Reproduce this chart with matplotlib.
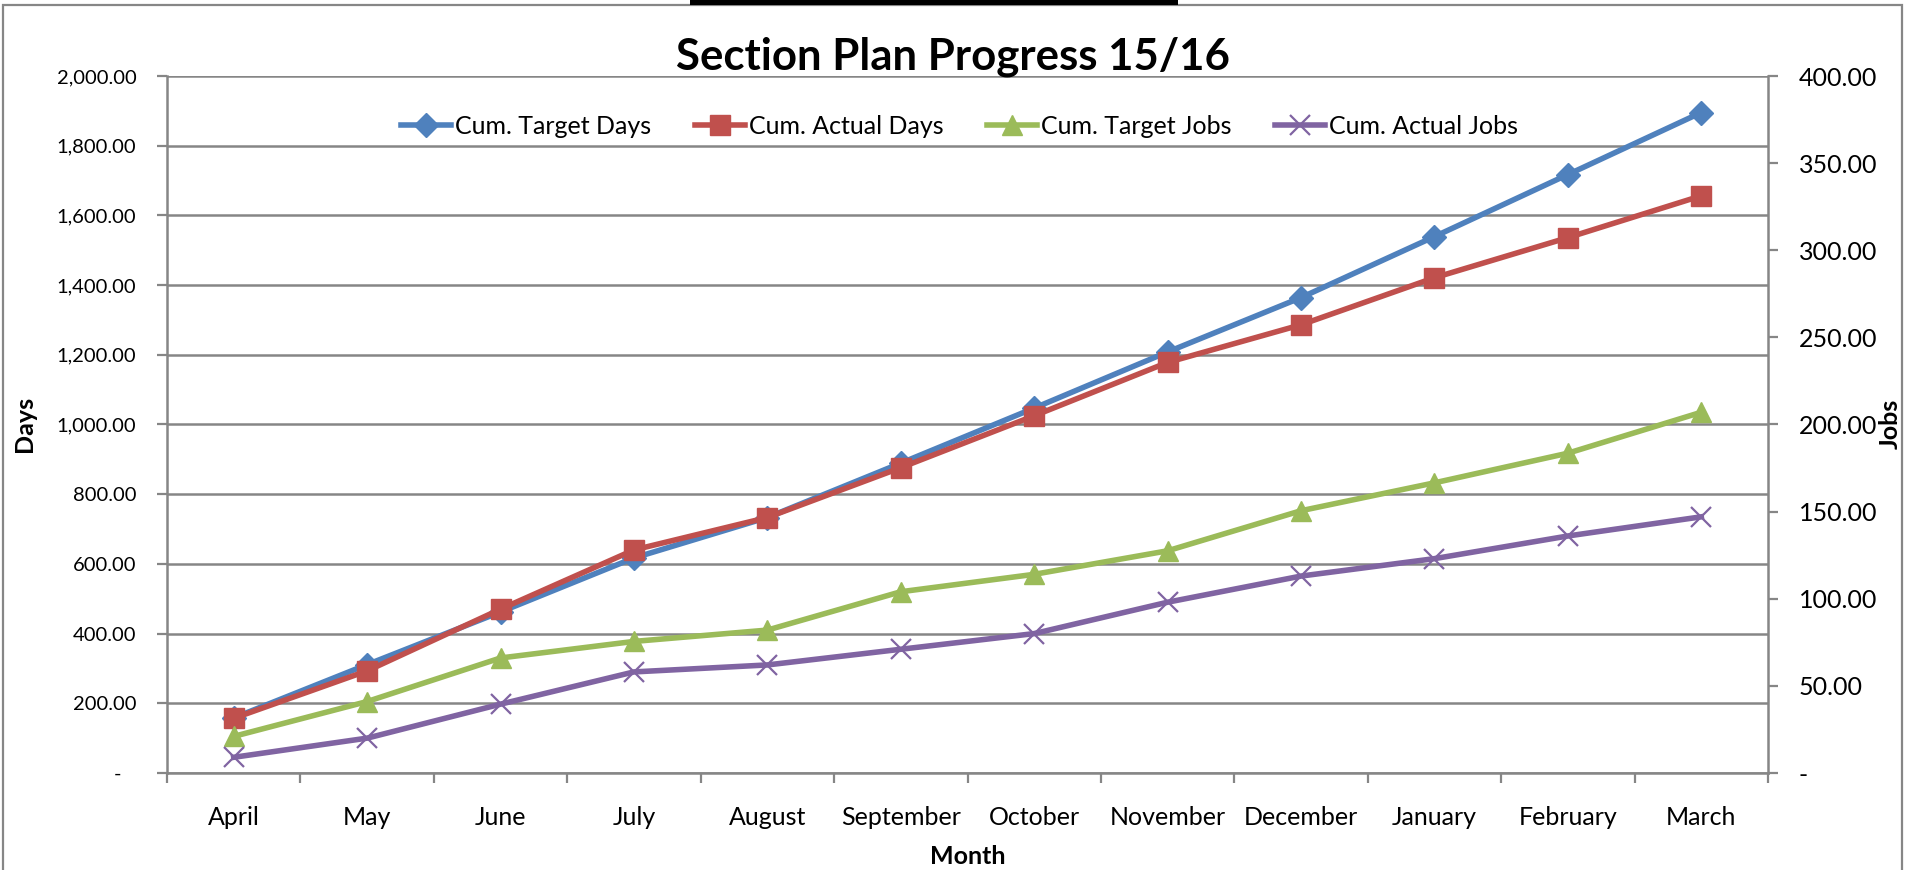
import matplotlib
matplotlib.use("Agg")
import matplotlib.pyplot as plt
import numpy as np
from matplotlib.patches import Rectangle
from matplotlib.ticker import FuncFormatter, FixedLocator

# ---------------- data ----------------
months = ["April", "May", "June", "July", "August", "September", "October",
          "November", "December", "January", "February", "March"]
cum_target_days = [158, 311, 462, 617, 733, 889, 1047, 1208, 1364, 1539, 1717, 1895]
cum_actual_days = [157, 293, 470, 640, 733, 876, 1025, 1178, 1286, 1421, 1536, 1656]
cum_target_jobs = [21, 41, 66, 75.5, 82, 104, 114, 127.5, 150.5, 166.5, 183.5, 207]
cum_actual_jobs = [9, 20, 39.5, 58, 62, 71, 80, 98, 113, 123, 136, 147]

title = "Section Plan Progress 15/16"
series_names = ["Cum. Target Days", "Cum. Actual Days", "Cum. Target Jobs", "Cum. Actual Jobs"]
days_ticks = list(range(0, 2001, 200))
jobs_ticks = list(range(0, 401, 50))

# ---------------- style ----------------
W, H = 1914, 870
plt.rcParams['font.family'] = ['Lato', 'DejaVu Sans']
FS = 18
FS_LEFT = 14.5
GRID = "#868686"
colors = ["#4F81BD", "#C0504D", "#9BBB59", "#8064A2"]

fig = plt.figure(figsize=(W / 100, H / 100 + 0.001), dpi=100)
fig.patch.set_facecolor("white")

# chart area border + black bar on top
fig.add_artist(Rectangle((3 / W, -0.05), (1902 - 3) / W, 1.05 - 5 / H,
                         transform=fig.transFigure, fill=False, edgecolor=GRID, linewidth=1.6))
fig.add_artist(Rectangle((690 / W, 1 - 5 / H), (1178 - 690) / W, 5 / H,
                         transform=fig.transFigure, facecolor="black", edgecolor="none"))

left, right, top, bottom = 167, 1768, 76, 773
ax = fig.add_axes([left / W, 1 - bottom / H, (right - left) / W, (bottom - top) / H])
ax2 = ax.twinx()

x = np.arange(len(months))
lw = 4.0
l1, = ax.plot(x, cum_target_days, color=colors[0], lw=lw, marker="D", markersize=12, zorder=3)
l2, = ax.plot(x, cum_actual_days, color=colors[1], lw=lw, marker="s", markersize=14, zorder=4)
l3, = ax2.plot(x, cum_target_jobs, color=colors[2], lw=lw, marker="^", markersize=15, zorder=3)
l4, = ax2.plot(x, cum_actual_jobs, color=colors[3], lw=lw, marker="x", markersize=15,
               markeredgewidth=1.6, zorder=3)

ax.set_xlim(-0.5, len(months) - 0.5)
ax.set_ylim(0, 2000)
ax2.set_ylim(0, 400)

# y ticks
ax.yaxis.set_major_locator(FixedLocator(days_ticks))
ax.yaxis.set_major_formatter(FuncFormatter(lambda v, p: "-   " if v == 0 else f"{v:,.2f}"))
ax2.yaxis.set_major_locator(FixedLocator(jobs_ticks))
ax2.yaxis.set_major_formatter(FuncFormatter(lambda v, p: "-" if v == 0 else f"{v:,.2f}"))

# x ticks: marks at category boundaries, labels at centres
ax.set_xticks(np.arange(-0.5, len(months), 1.0))
ax.set_xticklabels([])
ax.set_xticks(x, minor=True)
ax.set_xticklabels(months, minor=True)
ax.tick_params(axis="x", which="minor", length=0, pad=24, labelsize=FS)
ax.tick_params(axis="x", which="major", length=7, width=1.6, color=GRID, direction="out")
ax.tick_params(axis="y", length=7, width=1.6, color=GRID, direction="out", pad=15, labelsize=FS_LEFT)
ax2.tick_params(axis="y", length=7, width=1.6, color=GRID, direction="out", pad=15, labelsize=FS)

ax.grid(axis="y", color=GRID, linewidth=1.8)
ax.set_axisbelow(True)

for a in (ax, ax2):
    a.spines["top"].set_visible(False)
    for s in ("left", "right", "bottom"):
        a.spines[s].set_color(GRID)
        a.spines[s].set_linewidth(1.8)
ax.spines["right"].set_visible(False)
ax2.spines["left"].set_visible(False)
ax2.spines["bottom"].set_visible(False)

# titles
fig.text(953 / W, 1 - 57 / H, title, ha="center", va="center", fontsize=31.5, fontweight="bold")
fig.text(24 / W, 1 - 424 / H, "Days", ha="center", va="center", rotation=90,
         fontsize=FS, fontweight="bold")
fig.text(1890 / W, 1 - 424 / H, "Jobs", ha="center", va="center", rotation=90,
         fontsize=FS, fontweight="bold")
fig.text(968 / W, 1 - 856 / H, "Month", ha="center", va="center", fontsize=FS, fontweight="bold")

leg = ax.legend([l1, l2, l3, l4], series_names, loc="center", bbox_to_anchor=(0.495, 0.928),
                ncol=4, frameon=False, fontsize=FS, handlelength=2.0, handletextpad=0.15,
                columnspacing=1.75, borderaxespad=0)

fig.savefig("out.png", dpi=100)
